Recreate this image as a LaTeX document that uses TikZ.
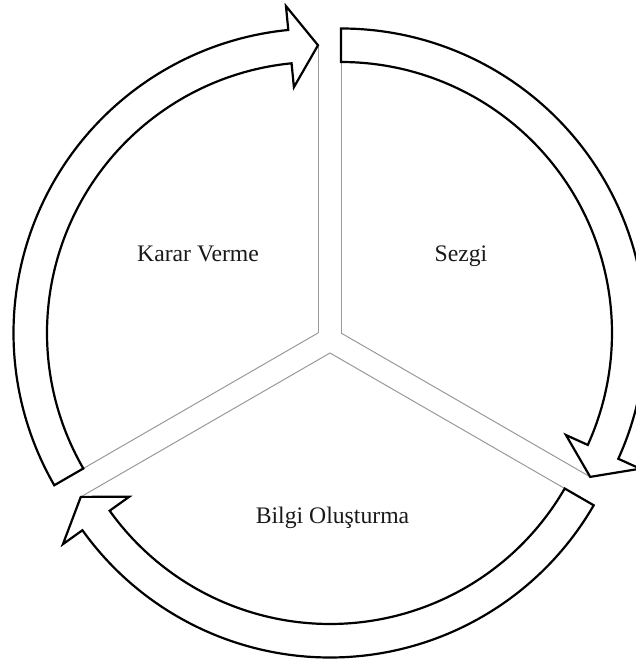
\documentclass[tikz,border=0pt]{standalone}
\usepackage{fontspec}
\setmainfont{Liberation Serif}
\usetikzlibrary{calc}

% Curved block arrow around a pie sector centred at #1:
% tail at angle #2, tip at angle #3 (running clockwise).
\newcommand\ringarrow[3]{%
  \draw[arrowbody] ($(#1)+(#2:304.5pt)$)
    arc[start angle=#2, end angle={#3+5.6}, radius=304.5pt]
    -- ($(#1)+({#3+5.6}:328.5pt)$)
    -- ($(#1)+(#3:287.75pt)$)
    -- ($(#1)+({#3+5.6}:247pt)$)
    -- ($(#1)+({#3+5.6}:271pt)$)
    arc[start angle={#3+5.6}, end angle=#2, radius=271pt]
    -- cycle;}

\tikzset{
  arrowbody/.style={draw=black, fill=white, line width=2.2pt, line join=miter},
  divider/.style={draw=black!40, line width=1pt},
  sectorlabel/.style={font=\fontsize{23.7}{28}\selectfont, text=black!90, inner sep=0pt, anchor=base}
}

\begin{document}
\begin{tikzpicture}
  \useasboundingbox (0,0) rectangle (636pt,662pt);
  \clip (0,0) rectangle (636pt,662pt);

  % sector apexes
  \coordinate (karar) at (318pt,329pt);
  \coordinate (sezgi) at (341pt,329pt);
  \coordinate (bilgi) at (330pt,309pt);

  % sector edges
  \draw[divider] (karar) -- ($(karar)+(210:271pt)$);
  \draw[divider] (karar) -- ($(karar)+(90:287.75pt)$);
  \draw[divider] (sezgi) -- ($(sezgi)+(90:271pt)$);
  \draw[divider] (sezgi) -- ($(sezgi)+(-30:287.75pt)$);
  \draw[divider] (bilgi) -- ($(bilgi)+(-30:271pt)$);
  \draw[divider] (bilgi) -- ($(bilgi)+(210:287.75pt)$);

  % cycle arrows
  \ringarrow{karar}{210}{90}
  \ringarrow{sezgi}{90}{-30}
  \ringarrow{bilgi}{-30}{-150}

  % labels
  \node[sectorlabel] (lkarar) at (198pt,400pt) {Karar Verme};
  \node[sectorlabel] (lsezgi) at (461pt,400pt) {Sezgi};
  \node[sectorlabel] (lbilgi) at (332.5pt,138.5pt) {Bilgi Oluşturma};
\end{tikzpicture}
\end{document}
